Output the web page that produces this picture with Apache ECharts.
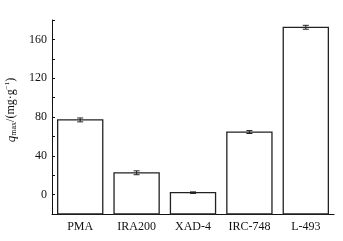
<!DOCTYPE html>
<html>
<head>
<meta charset="utf-8">
<script src="https://cdn.jsdelivr.net/npm/echarts@6/dist/echarts.min.js"></script>
<style>
  html, body { margin: 0; padding: 0; background: #fff; }
  #chart { width: 343px; height: 241px; }
</style>
</head>
<body>
<div id="chart"></div>
<script>
// 各树脂最大吸附量
const categories = ['PMA', 'IRA200', 'XAD-4', 'IRC-748', 'L-493']
const qmaxValues = [77, 22.5, 2, 64.5, 172.5]
const qmaxErrors = [2, 2, 0.8, 1.5, 2]
const yTicks = { min: -20, max: 180, step: 20 }

const chart = echarts.init(document.getElementById('chart'))
const font = 'Liberation Serif'

const barData = categories.map((c, i) => [i, qmaxValues[i], qmaxErrors[i]])

const renderBar = (params, api) => {
  const i = api.value(0)
  const v = api.value(1)
  const e = api.value(2)
  const base = api.coord([i, yTicks.min])
  const top = api.coord([i, v])
  const w = api.size([1, 0])[0] * 0.8
  const hi = api.coord([i, v + e])
  const lo = api.coord([i, v - e])
  const cap = 3
  const stroke = { stroke: '#222', lineWidth: 1 }
  return {
    type: 'group',
    children: [
      {
        type: 'rect',
        shape: { x: base[0] - w / 2, y: top[1], width: w, height: base[1] - top[1] },
        style: { fill: '#fff', stroke: '#222', lineWidth: 1.3 }
      },
      { type: 'line', shape: { x1: hi[0], y1: hi[1], x2: lo[0], y2: lo[1] }, style: stroke },
      { type: 'line', shape: { x1: hi[0] - cap, y1: hi[1], x2: hi[0] + cap, y2: hi[1] }, style: stroke },
      { type: 'line', shape: { x1: lo[0] - cap, y1: lo[1], x2: lo[0] + cap, y2: lo[1] }, style: stroke }
    ]
  }
}

chart.setOption({
  backgroundColor: '#fff',
  animation: false,
  grid: { left: 52, right: 9, top: 20, bottom: 27, containLabel: false, outerBoundsMode: 'none' },
  xAxis: {
    type: 'category',
    data: categories,
    axisLine: { onZero: false, lineStyle: { color: '#111', width: 1 } },
    axisTick: { show: false },
    axisLabel: { color: '#111', fontFamily: font, fontSize: 12, margin: 7 }
  },
  yAxis: {
    type: 'value',
    min: yTicks.min,
    max: yTicks.max,
    interval: yTicks.step,
    splitLine: { show: false },
    axisLine: { show: true, lineStyle: { color: '#111', width: 1 } },
    axisTick: { show: true, inside: true, length: 3, lineStyle: { color: '#111' } },
    axisLabel: {
      color: '#111',
      fontFamily: font,
      fontSize: 12,
      margin: 5,
      formatter: (v) => (v % 40 === 0 && v >= 0 && v <= 160 ? String(v) : '')
    },
    name: '{q|q}{sub|max}{t|/(mg·g}{sup|−1}{t|)}',
    nameLocation: 'middle',
    nameGap: 29,
    nameRotate: 90,
    nameTextStyle: {
      padding: [0, 0, 0, 14],
      rich: {
        q: { fontFamily: font, fontStyle: 'italic', fontSize: 13, color: '#111' },
        sub: { fontFamily: font, fontSize: 8, color: '#111', verticalAlign: 'bottom', padding: [6, 0, 0, 0] },
        t: { fontFamily: font, fontSize: 12, color: '#111' },
        sup: { fontFamily: font, fontSize: 7, color: '#111', verticalAlign: 'top', padding: [0, 0, 6, 0] }
      }
    }
  },
  series: [
    {
      type: 'custom',
      renderItem: renderBar,
      encode: { x: 0, y: 1 },
      data: barData,
      clip: false
    }
  ]
})
</script>
</body>
</html>
